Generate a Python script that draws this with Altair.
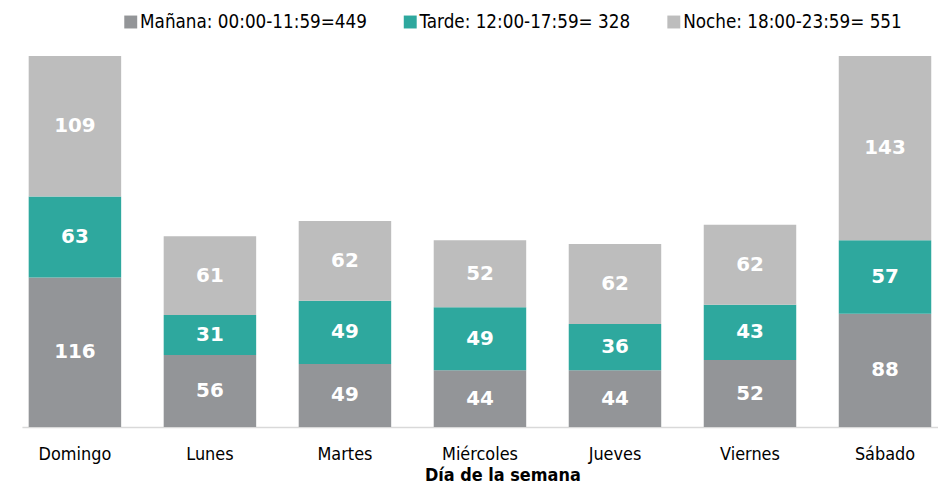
import altair as alt
import pandas as pd

days = ["Domingo", "Lunes", "Martes", "Miércoles", "Jueves", "Viernes", "Sábado"]
series = ["Mañana: 00:00-11:59=449", "Tarde: 12:00-17:59= 328", "Noche: 18:00-23:59= 551"]
manana = [116, 56, 49, 44, 44, 52, 88]
tarde = [63, 31, 49, 49, 36, 43, 57]
noche = [109, 61, 62, 52, 62, 62, 143]
colors = ["#939598", "#2ea89e", "#bdbdbd"]

rows = []
for s_i, (name, vals) in enumerate(zip(series, [manana, tarde, noche])):
    for d_i, (d, v) in enumerate(zip(days, vals)):
        rows.append({"day": d, "serie": name, "value": v, "order": s_i})
df = pd.DataFrame(rows)

base = alt.Chart(df).transform_stack(
    stack="value", groupby=["day"], as_=["y0", "y1"],
    sort=[alt.SortField("order", order="ascending")]
).transform_calculate(mid="(datum.y0 + datum.y1) / 2")

xenc = alt.X("day:N", sort=days, title="Día de la semana",
             scale=alt.Scale(paddingInner=0.315, paddingOuter=0.05),
             axis=alt.Axis(labelAngle=0, ticks=False, domainColor="#d9d9d9", domainWidth=1.5,
                           labelFont="DejaVu Sans Condensed", labelFontSize=18, labelColor="#000000",
                           labelPadding=19, titleFont="DejaVu Sans Condensed", titleFontSize=18,
                           titleFontWeight="bold", titleColor="#000000", titlePadding=3,
                           titleX=483, titleAlign="center"))
yscale = alt.Scale(domain=[0, 288], nice=False, zero=True)

bars = base.mark_bar().encode(
    x=xenc,
    y=alt.Y("y0:Q", scale=yscale, axis=None),
    y2="y1:Q",
    color=alt.Color("serie:N", scale=alt.Scale(domain=series, range=colors),
                    legend=alt.Legend(title=None, orient="none", direction="horizontal",
                                      legendX=100, legendY=-44, symbolType="square",
                                      symbolSize=169, symbolStrokeWidth=0, labelOffset=0,
                                      columnPadding=34, labelFont="DejaVu Sans Condensed",
                                      labelFontSize=18.8, labelColor="#000000", labelLimit=0)),
    order="order:Q",
)

labels = base.mark_text(color="white", font="DejaVu Sans", fontWeight="bold", fontSize=20,
                        baseline="middle").encode(
    x=alt.X("day:N", sort=days),
    y=alt.Y("mid:Q", scale=yscale),
    text="value:Q",
)

chart = alt.layer(bars, labels).properties(
    width=921, height=373,
    autosize=alt.AutoSizeParams(type="none"),
    padding={"left": 14, "top": 47, "right": 0, "bottom": 57},
).configure_view(stroke=None)

chart.save("out.html", embed_options={"renderer": "svg", "actions": False})
